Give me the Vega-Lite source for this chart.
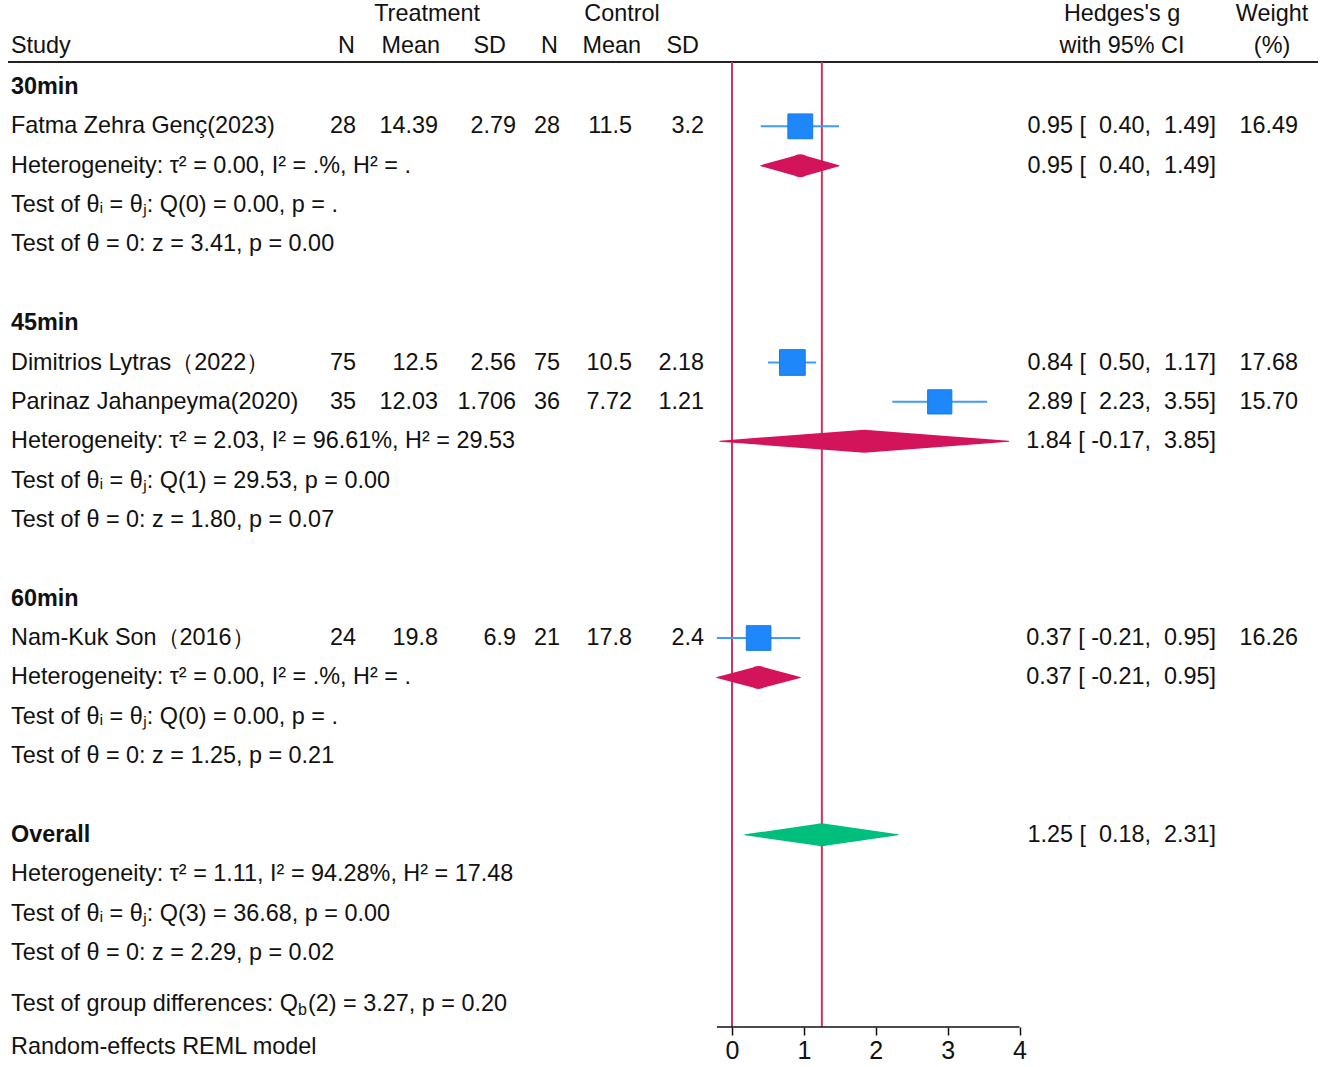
{
  "$schema": "https://vega.github.io/schema/vega-lite/v6.json",
  "width": 1325,
  "height": 1027,
  "autosize": {"type": "none"},
  "padding": {"left": 0, "right": 0, "top": 0, "bottom": 40},
  "background": "white",
  "config": {
    "view": {"stroke": null},
    "font": "Liberation Sans",
    "text": {"font": "Liberation Sans", "fontSize": 23.4, "color": "#111111", "baseline": "middle"},
    "axis": {"domain": false, "grid": false, "ticks": true, "tickSize": 8, "tickColor": "#111111", "tickWidth": 1.5, "labelFontSize": 25, "labelColor": "#111111", "labelFont": "Liberation Sans", "labelPadding": 3}
  },
  "datasets": {
    "studies": [
      {"study": "Fatma Zehra Genç(2023)", "group": "30min", "row": 1, "nt": 28, "mt": 14.39, "sdt": 2.79, "nc": 28, "mc": 11.5, "sdc": 3.2, "g": 0.95, "lo": 0.40, "hi": 1.49, "w": 16.49, "ci": "0.95 [\u00a0\u00a00.40,\u00a0\u00a01.49]"},
      {"study": "Dimitrios Lytras（2022）", "group": "45min", "row": 7, "nt": 75, "mt": 12.5, "sdt": 2.56, "nc": 75, "mc": 10.5, "sdc": 2.18, "g": 0.84, "lo": 0.50, "hi": 1.17, "w": 17.68, "ci": "0.84 [\u00a0\u00a00.50,\u00a0\u00a01.17]"},
      {"study": "Parinaz Jahanpeyma(2020)", "group": "45min", "row": 8, "nt": 35, "mt": 12.03, "sdt": 1.706, "nc": 36, "mc": 7.72, "sdc": 1.21, "g": 2.89, "lo": 2.23, "hi": 3.55, "w": 15.70, "ci": "2.89 [\u00a0\u00a02.23,\u00a0\u00a03.55]"},
      {"study": "Nam-Kuk Son（2016）", "group": "60min", "row": 14, "nt": 24, "mt": 19.8, "sdt": 6.9, "nc": 21, "mc": 17.8, "sdc": 2.4, "g": 0.37, "lo": -0.21, "hi": 0.95, "w": 16.26, "ci": "0.37 [\u00a0-0.21,\u00a0\u00a00.95]"}
    ],
    "pooled": [
      {"label": "30min", "kind": "subgroup", "row": 2, "g": 0.95, "lo": 0.40, "hi": 1.49, "ci": "0.95 [\u00a0\u00a00.40,\u00a0\u00a01.49]"},
      {"label": "45min", "kind": "subgroup", "row": 9, "g": 1.84, "lo": -0.17, "hi": 3.85, "ci": "1.84 [\u00a0-0.17,\u00a0\u00a03.85]"},
      {"label": "60min", "kind": "subgroup", "row": 15, "g": 0.37, "lo": -0.21, "hi": 0.95, "ci": "0.37 [\u00a0-0.21,\u00a0\u00a00.95]"},
      {"label": "Overall", "kind": "overall", "row": 19, "g": 1.25, "lo": 0.18, "hi": 2.31, "ci": "1.25 [\u00a0\u00a00.18,\u00a0\u00a02.31]"}
    ],
    "notes": [
      {"row": 0, "text": "30min", "kind": "heading"},
      {"row": 2, "text": "Heterogeneity: τ² = 0.00, I² = .%, H² = .", "kind": "note"},
      {"row": 3, "text": "Test of θᵢ = θⱼ: Q(0) = 0.00, p = .", "kind": "note"},
      {"row": 4, "text": "Test of θ = 0: z = 3.41, p = 0.00", "kind": "note"},
      {"row": 6, "text": "45min", "kind": "heading"},
      {"row": 9, "text": "Heterogeneity: τ² = 2.03, I² = 96.61%, H² = 29.53", "kind": "note"},
      {"row": 10, "text": "Test of θᵢ = θⱼ: Q(1) = 29.53, p = 0.00", "kind": "note"},
      {"row": 11, "text": "Test of θ = 0: z = 1.80, p = 0.07", "kind": "note"},
      {"row": 13, "text": "60min", "kind": "heading"},
      {"row": 15, "text": "Heterogeneity: τ² = 0.00, I² = .%, H² = .", "kind": "note"},
      {"row": 16, "text": "Test of θᵢ = θⱼ: Q(0) = 0.00, p = .", "kind": "note"},
      {"row": 17, "text": "Test of θ = 0: z = 1.25, p = 0.21", "kind": "note"},
      {"row": 19, "text": "Overall", "kind": "heading"},
      {"row": 20, "text": "Heterogeneity: τ² = 1.11, I² = 94.28%, H² = 17.48", "kind": "note"},
      {"row": 21, "text": "Test of θᵢ = θⱼ: Q(3) = 36.68, p = 0.00", "kind": "note"},
      {"row": 22, "text": "Test of θ = 0: z = 2.29, p = 0.02", "kind": "note"},
      {"row": 24.4, "text": "Random-effects REML model", "kind": "note"}
    ],
    "footnote": [
      {"row": 23.3, "lead": "Test of group differences: Q", "sub": "b", "rest": "(2) = 3.27, p = 0.20"}
    ],
    "headers": [
      {"col": "study", "row": -1.04, "text": "Study"},
      {"col": "treat", "row": -1.85, "text": "Treatment"},
      {"col": "ctrl", "row": -1.85, "text": "Control"},
      {"col": "nt", "row": -1.04, "text": "N"},
      {"col": "mt", "row": -1.04, "text": "Mean"},
      {"col": "sdt", "row": -1.04, "text": "SD"},
      {"col": "nc", "row": -1.04, "text": "N"},
      {"col": "mc", "row": -1.04, "text": "Mean"},
      {"col": "sdc", "row": -1.04, "text": "SD"},
      {"col": "es", "row": -1.85, "text": "Hedges's g"},
      {"col": "es", "row": -1.04, "text": "with 95% CI"},
      {"col": "wt", "row": -1.85, "text": "Weight"},
      {"col": "wt", "row": -1.04, "text": "(%)"}
    ]
  },
  "layer": [
    {
      "data": {"values": [{"line": "header"}]},
      "mark": {"type": "rule", "color": "#222222", "strokeWidth": 2},
      "encoding": {
        "x": {"datum": -10.073, "type": "quantitative", "scale": {"domain": [-10.184, 8.25], "nice": false, "zero": false}, "axis": {"values": [0, 1, 2, 3, 4], "title": null}},
        "x2": {"datum": 8.153},
        "y": {"datum": -0.635, "type": "quantitative", "scale": {"domain": [-2.21, 23.882], "reverse": true, "nice": false, "zero": false}, "axis": null}
      }
    },
    {
      "data": {"values": [{"line": "null effect"}]},
      "mark": {"type": "rule", "color": "#D2325F", "strokeWidth": 2},
      "encoding": {
        "x": {"datum": 0, "type": "quantitative", "axis": {"values": [0, 1, 2, 3, 4], "title": null}},
        "y": {"datum": -0.635, "type": "quantitative", "axis": null},
        "y2": {"datum": 23.882}
      }
    },
    {
      "data": {"name": "pooled"},
      "transform": [{"filter": "datum.kind === 'overall'"}],
      "mark": {"type": "rule", "color": "#D2325F", "strokeWidth": 2},
      "encoding": {
        "x": {"field": "g", "type": "quantitative", "axis": {"values": [0, 1, 2, 3, 4], "title": null}},
        "y": {"datum": -0.635, "type": "quantitative", "axis": null},
        "y2": {"datum": 23.882}
      }
    },
    {
      "data": {"values": [{"line": "axis"}]},
      "mark": {"type": "rule", "color": "#111111", "strokeWidth": 1.5},
      "encoding": {
        "x": {"datum": -0.21, "type": "quantitative", "axis": {"values": [0, 1, 2, 3, 4], "title": null}},
        "x2": {"datum": 4},
        "y": {"datum": 23.882, "type": "quantitative", "axis": null}
      }
    },
    {
      "data": {"name": "studies"},
      "mark": {"type": "rule", "color": "#3E9BFF", "strokeWidth": 2},
      "encoding": {
        "x": {"field": "lo", "type": "quantitative", "axis": {"values": [0, 1, 2, 3, 4], "title": null}},
        "x2": {"field": "hi"},
        "y": {"field": "row", "type": "quantitative", "axis": null}
      }
    },
    {
      "data": {"name": "studies"},
      "mark": {"type": "point", "shape": "square", "filled": true, "fill": "#1E88FA", "stroke": "#1877E6", "strokeWidth": 1, "opacity": 1},
      "encoding": {
        "x": {"field": "g", "type": "quantitative", "axis": {"values": [0, 1, 2, 3, 4], "title": null}},
        "y": {"field": "row", "type": "quantitative", "axis": null},
        "size": {"field": "w", "type": "quantitative", "scale": {"domain": [0, 17.68], "range": [0, 660], "zero": true}, "legend": null}
      }
    },
    {
      "data": {"name": "pooled"},
      "transform": [{"fold": ["lo", "g", "hi"], "as": ["key", "value"]}],
      "mark": {"type": "trail", "opacity": 1},
      "encoding": {
        "x": {"field": "value", "type": "quantitative", "axis": {"values": [0, 1, 2, 3, 4], "title": null}},
        "y": {"field": "row", "type": "quantitative", "axis": null},
        "detail": {"field": "label"},
        "order": {"field": "value"},
        "size": {"condition": {"test": "datum.key === 'g'", "value": 23}, "value": 0},
        "color": {"condition": {"test": "datum.kind === 'overall'", "value": "#00BF7C"}, "value": "#D4145A"}
      }
    },
    {
      "data": {"name": "studies"},
      "mark": {"type": "text", "align": "left"},
      "encoding": {"x": {"datum": -10.031, "type": "quantitative", "axis": {"values": [0, 1, 2, 3, 4], "title": null}}, "y": {"field": "row", "type": "quantitative", "axis": null}, "text": {"field": "study"}}
    },
    {
      "data": {"name": "studies"},
      "mark": {"type": "text", "align": "right"},
      "encoding": {"x": {"datum": -5.231, "type": "quantitative", "axis": {"values": [0, 1, 2, 3, 4], "title": null}}, "y": {"field": "row", "type": "quantitative", "axis": null}, "text": {"field": "nt", "type": "nominal"}}
    },
    {
      "data": {"name": "studies"},
      "mark": {"type": "text", "align": "right"},
      "encoding": {"x": {"datum": -4.09, "type": "quantitative", "axis": {"values": [0, 1, 2, 3, 4], "title": null}}, "y": {"field": "row", "type": "quantitative", "axis": null}, "text": {"field": "mt", "type": "nominal"}}
    },
    {
      "data": {"name": "studies"},
      "mark": {"type": "text", "align": "right"},
      "encoding": {"x": {"datum": -3.005, "type": "quantitative", "axis": {"values": [0, 1, 2, 3, 4], "title": null}}, "y": {"field": "row", "type": "quantitative", "axis": null}, "text": {"field": "sdt", "type": "nominal"}}
    },
    {
      "data": {"name": "studies"},
      "mark": {"type": "text", "align": "right"},
      "encoding": {"x": {"datum": -2.393, "type": "quantitative", "axis": {"values": [0, 1, 2, 3, 4], "title": null}}, "y": {"field": "row", "type": "quantitative", "axis": null}, "text": {"field": "nc", "type": "nominal"}}
    },
    {
      "data": {"name": "studies"},
      "mark": {"type": "text", "align": "right"},
      "encoding": {"x": {"datum": -1.391, "type": "quantitative", "axis": {"values": [0, 1, 2, 3, 4], "title": null}}, "y": {"field": "row", "type": "quantitative", "axis": null}, "text": {"field": "mc", "type": "nominal"}}
    },
    {
      "data": {"name": "studies"},
      "mark": {"type": "text", "align": "right"},
      "encoding": {"x": {"datum": -0.39, "type": "quantitative", "axis": {"values": [0, 1, 2, 3, 4], "title": null}}, "y": {"field": "row", "type": "quantitative", "axis": null}, "text": {"field": "sdc", "type": "nominal"}}
    },
    {
      "data": {"name": "studies"},
      "mark": {"type": "text", "align": "right"},
      "encoding": {"x": {"datum": 6.734, "type": "quantitative", "axis": {"values": [0, 1, 2, 3, 4], "title": null}}, "y": {"field": "row", "type": "quantitative", "axis": null}, "text": {"field": "ci"}}
    },
    {
      "data": {"name": "studies"},
      "mark": {"type": "text", "align": "right"},
      "encoding": {"x": {"datum": 7.875, "type": "quantitative", "axis": {"values": [0, 1, 2, 3, 4], "title": null}}, "y": {"field": "row", "type": "quantitative", "axis": null}, "text": {"field": "w", "type": "quantitative", "format": ".2f"}}
    },
    {
      "data": {"name": "pooled"},
      "mark": {"type": "text", "align": "right"},
      "encoding": {"x": {"datum": 6.734, "type": "quantitative", "axis": {"values": [0, 1, 2, 3, 4], "title": null}}, "y": {"field": "row", "type": "quantitative", "axis": null}, "text": {"field": "ci"}}
    },
    {
      "data": {"name": "notes"},
      "transform": [{"filter": "datum.kind === 'note'"}],
      "mark": {"type": "text", "align": "left"},
      "encoding": {"x": {"datum": -10.031, "type": "quantitative", "axis": {"values": [0, 1, 2, 3, 4], "title": null}}, "y": {"field": "row", "type": "quantitative", "axis": null}, "text": {"field": "text"}}
    },
    {
      "data": {"name": "notes"},
      "transform": [{"filter": "datum.kind === 'heading'"}],
      "mark": {"type": "text", "align": "left", "fontWeight": "bold"},
      "encoding": {"x": {"datum": -10.031, "type": "quantitative", "axis": {"values": [0, 1, 2, 3, 4], "title": null}}, "y": {"field": "row", "type": "quantitative", "axis": null}, "text": {"field": "text"}}
    },
    {
      "data": {"name": "footnote"},
      "mark": {"type": "text", "align": "left"},
      "encoding": {"x": {"datum": -10.031, "type": "quantitative", "axis": {"values": [0, 1, 2, 3, 4], "title": null}}, "y": {"field": "row", "type": "quantitative", "axis": null}, "text": {"field": "lead"}}
    },
    {
      "data": {"name": "footnote"},
      "mark": {"type": "text", "align": "left", "fontSize": 16, "dx": 287, "dy": 6},
      "encoding": {"x": {"datum": -10.031, "type": "quantitative", "axis": {"values": [0, 1, 2, 3, 4], "title": null}}, "y": {"field": "row", "type": "quantitative", "axis": null}, "text": {"field": "sub"}}
    },
    {
      "data": {"name": "footnote"},
      "mark": {"type": "text", "align": "left", "dx": 297},
      "encoding": {"x": {"datum": -10.031, "type": "quantitative", "axis": {"values": [0, 1, 2, 3, 4], "title": null}}, "y": {"field": "row", "type": "quantitative", "axis": null}, "text": {"field": "rest"}}
    },
    {
      "data": {"name": "headers"},
      "transform": [{"filter": "datum.col === 'study'"}],
      "mark": {"type": "text", "align": "left"},
      "encoding": {"x": {"datum": -10.031, "type": "quantitative", "axis": {"values": [0, 1, 2, 3, 4], "title": null}}, "y": {"field": "row", "type": "quantitative", "axis": null}, "text": {"field": "text"}}
    },
    {
      "data": {"name": "headers"},
      "transform": [{"filter": "datum.col === 'treat'"}],
      "mark": {"type": "text", "align": "center"},
      "encoding": {"x": {"datum": -4.243, "type": "quantitative", "axis": {"values": [0, 1, 2, 3, 4], "title": null}}, "y": {"field": "row", "type": "quantitative", "axis": null}, "text": {"field": "text"}}
    },
    {
      "data": {"name": "headers"},
      "transform": [{"filter": "datum.col === 'ctrl'"}],
      "mark": {"type": "text", "align": "center"},
      "encoding": {"x": {"datum": -1.53, "type": "quantitative", "axis": {"values": [0, 1, 2, 3, 4], "title": null}}, "y": {"field": "row", "type": "quantitative", "axis": null}, "text": {"field": "text"}}
    },
    {
      "data": {"name": "headers"},
      "transform": [{"filter": "datum.col === 'nt'"}],
      "mark": {"type": "text", "align": "right"},
      "encoding": {"x": {"datum": -5.245, "type": "quantitative", "axis": {"values": [0, 1, 2, 3, 4], "title": null}}, "y": {"field": "row", "type": "quantitative", "axis": null}, "text": {"field": "text"}}
    },
    {
      "data": {"name": "headers"},
      "transform": [{"filter": "datum.col === 'mt'"}],
      "mark": {"type": "text", "align": "right"},
      "encoding": {"x": {"datum": -4.063, "type": "quantitative", "axis": {"values": [0, 1, 2, 3, 4], "title": null}}, "y": {"field": "row", "type": "quantitative", "axis": null}, "text": {"field": "text"}}
    },
    {
      "data": {"name": "headers"},
      "transform": [{"filter": "datum.col === 'sdt'"}],
      "mark": {"type": "text", "align": "right"},
      "encoding": {"x": {"datum": -3.144, "type": "quantitative", "axis": {"values": [0, 1, 2, 3, 4], "title": null}}, "y": {"field": "row", "type": "quantitative", "axis": null}, "text": {"field": "text"}}
    },
    {
      "data": {"name": "headers"},
      "transform": [{"filter": "datum.col === 'nc'"}],
      "mark": {"type": "text", "align": "right"},
      "encoding": {"x": {"datum": -2.421, "type": "quantitative", "axis": {"values": [0, 1, 2, 3, 4], "title": null}}, "y": {"field": "row", "type": "quantitative", "axis": null}, "text": {"field": "text"}}
    },
    {
      "data": {"name": "headers"},
      "transform": [{"filter": "datum.col === 'mc'"}],
      "mark": {"type": "text", "align": "right"},
      "encoding": {"x": {"datum": -1.266, "type": "quantitative", "axis": {"values": [0, 1, 2, 3, 4], "title": null}}, "y": {"field": "row", "type": "quantitative", "axis": null}, "text": {"field": "text"}}
    },
    {
      "data": {"name": "headers"},
      "transform": [{"filter": "datum.col === 'sdc'"}],
      "mark": {"type": "text", "align": "right"},
      "encoding": {"x": {"datum": -0.459, "type": "quantitative", "axis": {"values": [0, 1, 2, 3, 4], "title": null}}, "y": {"field": "row", "type": "quantitative", "axis": null}, "text": {"field": "text"}}
    },
    {
      "data": {"name": "headers"},
      "transform": [{"filter": "datum.col === 'es'"}],
      "mark": {"type": "text", "align": "center"},
      "encoding": {"x": {"datum": 5.426, "type": "quantitative", "axis": {"values": [0, 1, 2, 3, 4], "title": null}}, "y": {"field": "row", "type": "quantitative", "axis": null}, "text": {"field": "text"}}
    },
    {
      "data": {"name": "headers"},
      "transform": [{"filter": "datum.col === 'wt'"}],
      "mark": {"type": "text", "align": "center"},
      "encoding": {"x": {"datum": 7.513, "type": "quantitative", "axis": {"values": [0, 1, 2, 3, 4], "title": null}}, "y": {"field": "row", "type": "quantitative", "axis": null}, "text": {"field": "text"}}
    }
  ]
}
